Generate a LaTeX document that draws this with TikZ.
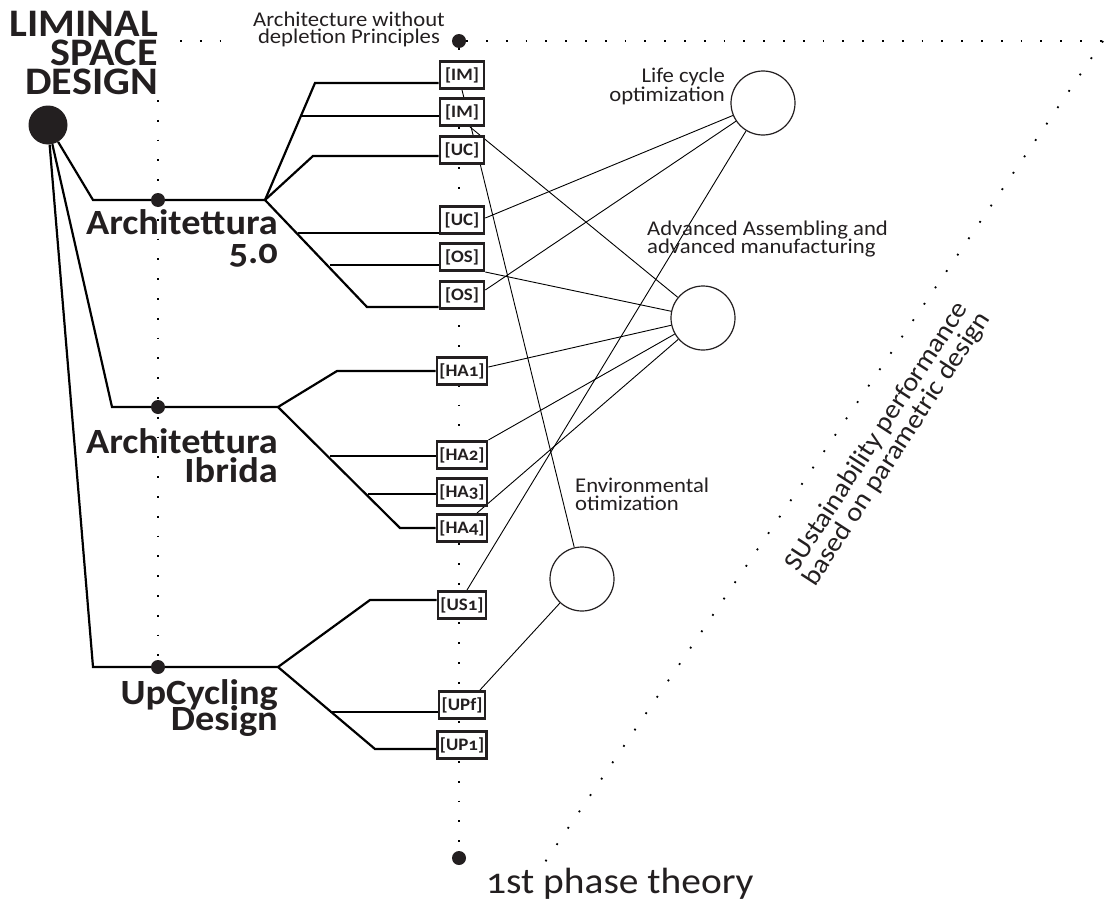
\documentclass[tikz,border=0pt]{standalone}
\usepackage{fontspec}
\setmainfont{Carlito}[Numbers=OldStyle,FakeStretch=1.08]
\usetikzlibrary{backgrounds}
\definecolor{ink}{HTML}{231F20}
\begin{document}
\begin{tikzpicture}[x=1pt,y=-1pt,color=ink,
  treeline/.style={line width=2.2pt,line join=miter},
  link/.style={line width=0.9pt},
  dotline/.style={line width=1.8pt,dash pattern=on 1.8pt off 18pt},
  boxnode/.style={draw,line width=2.6pt,fill=white,minimum width=44pt,minimum height=27.4pt,inner xsep=2.5pt,inner ysep=0pt,font=\fontsize{17.5}{17.5}\selectfont\bfseries},
  bigdot/.style={circle,fill=ink,inner sep=0pt,minimum size=14pt},
  ring/.style={circle,draw,line width=1.2pt,fill=white,inner sep=0pt,minimum size=64pt},
  lbl/.style={inner sep=0pt,font=\fontsize{21}{21}\selectfont},
  brl/.style={inner sep=0pt,anchor=base east,font=\fontsize{35.5}{35.5}\selectfont\bfseries},
  ttl/.style={inner sep=0pt,anchor=base east,font=\fontsize{39}{39}\selectfont\bfseries},
]
\useasboundingbox (0,0) rectangle (1113,907);

% title and root
\node[ttl] (t1) at (158,37) {LIMINAL};
\node[ttl] (t2) at (158,66) {SPACE};
\node[ttl] (t3) at (158,94) {DESIGN};
\node[circle,fill=ink,inner sep=0pt,minimum size=39pt] (root) at (48,125) {};

% boxes
\node[boxnode] (IM1) at (462,75) {[IM]};
\node[boxnode] (IM2) at (462,112) {[IM]};
\node[boxnode] (UC1) at (462,150) {[UC]};
\node[boxnode] (UC2) at (462,220) {[UC]};
\node[boxnode] (OS1) at (462,257) {[OS]};
\node[boxnode] (OS2) at (462,295) {[OS]};
\node[boxnode] (HA1) at (462,371) {[HA1]};
\node[boxnode] (HA2) at (462,455) {[HA2]};
\node[boxnode] (HA3) at (462,492) {[HA3]};
\node[boxnode] (HA4) at (462,528) {[HA4]};
\node[boxnode] (US1) at (462,605) {[US1]};
\node[boxnode] (UPf) at (462,705) {[UPf]};
\node[boxnode] (UP1) at (462,745) {[UP1]};

% dots
\node[bigdot] (D1) at (158,200) {};
\node[bigdot] (D2) at (158,407) {};
\node[bigdot] (D3) at (158,667) {};
\node[bigdot] (topdot) at (459,41) {};
\node[bigdot] (botdot) at (459,858) {};

% rings
\node[ring] (LC) at (763,103) {};
\node[ring] (ADV) at (703,318) {};
\node[ring] (ENV) at (582,579) {};

% labels
\node[lbl,anchor=base] (aw1) at (349,27) {Architecture without};
\node[lbl,anchor=base] (aw2) at (349,44) {depletion Principles};
\node[lbl,anchor=base east] (lc1) at (725,82) {Life cycle};
\node[lbl,anchor=base east] (lc2) at (725,101) {optimization};
\node[lbl,anchor=base west] (ad1) at (647,235) {Advanced Assembling and};
\node[lbl,anchor=base west] (ad2) at (647,253) {advanced manufacturing};
\node[lbl,anchor=base west] (en1) at (575,492) {Environmental};
\node[lbl,anchor=base west] (en2) at (575,510) {otimization};
\node[inner sep=0pt,anchor=base west,font=\fontsize{36.5}{36.5}\selectfont] (ph) at (486,893) {1st phase theory};
\node[rotate=57,align=center,inner sep=0pt,font=\fontsize{26.5}{22}\selectfont] (sus) at (887,443) {SUstainability performance\\based on parametric design};

\node[brl] (a5a) at (278,234) {Architettura};
\node[brl] (a5b) at (278,263) {5.0};
\node[brl] (aia) at (278,453) {Architettura};
\node[brl] (aib) at (278,482) {Ibrida};
\node[brl] (upa) at (278,704) {UpCycling};
\node[brl] (upb) at (278,730) {Design};

% coordinates
\coordinate (tl1) at (180,41);
\coordinate (tl2) at (236,41);
\coordinate (tr) at (1103,41);
\coordinate (bd) at (545,862);
\coordinate (lt) at (158,100);
\coordinate (k1) at (93,200);
\coordinate (k2) at (112,407);
\coordinate (k3) at (93,667);
\coordinate (b1) at (265,200);
\coordinate (b2) at (278,407);
\coordinate (b3) at (278,667);
\coordinate (u1) at (315,83);
\coordinate (u2) at (302,116);
\coordinate (u3) at (313,156);
\coordinate (l1) at (298,233);
\coordinate (l2) at (330,265);
\coordinate (l3) at (367,307);
\coordinate (v1) at (337,371);
\coordinate (w1) at (330,456);
\coordinate (w2) at (368,494);
\coordinate (w3) at (400,528);
\coordinate (x1) at (370,600);
\coordinate (y1) at (330,712);
\coordinate (y2) at (375,749);

\begin{pgfonlayer}{background}
  % dotted guides
  \draw[dotline] (tl1) -- (tl2);
  \draw[dotline] (topdot) -- (tr);
  \draw[dotline] (tr) -- (bd);
  \draw[dotline] (topdot) -- (botdot);
  \draw[dotline] (lt) -- (D3);
  % thin links
  \draw[link] (IM1.south) -- (ENV);
  \draw[link] ([xshift=8pt]IM2.south) -- (ADV);
  \draw[link] ([yshift=2pt]UC2.east) -- (LC);
  \draw[link] (OS1.south east) -- (ADV);
  \draw[link] ([yshift=5pt]OS2.east) -- (LC);
  \draw[link] ([yshift=4pt]HA1.east) -- (ADV);
  \draw[link] (HA2.north east) -- (ADV);
  \draw[link] ([xshift=15pt]HA4.north) -- (ADV);
  \draw[link] ([xshift=5pt]US1.north) -- (LC);
  \draw[link] ([xshift=18pt]UPf.north) -- (ENV);
  % tree
  \draw[treeline] (root) -- (k1) -- (b1);
  \draw[treeline] (root) -- (k2) -- (b2);
  \draw[treeline] (root) -- (k3) -- (b3);
  \draw[treeline] (b1) -- (u1) -- (IM1.west |- u1);
  \draw[treeline] (u2) -- (IM2.west |- u2);
  \draw[treeline] (b1) -- (u3) -- (UC1.west |- u3);
  \draw[treeline] (b1) -- (l3) -- (OS2.west |- l3);
  \draw[treeline] (l1) -- (UC2.west |- l1);
  \draw[treeline] (l2) -- (OS1.west |- l2);
  \draw[treeline] (b2) -- (v1) -- (HA1.west |- v1);
  \draw[treeline] (b2) -- (w3) -- (HA4.west |- w3);
  \draw[treeline] (w1) -- (HA2.west |- w1);
  \draw[treeline] (w2) -- (HA3.west |- w2);
  \draw[treeline] (b3) -- (x1) -- (US1.west |- x1);
  \draw[treeline] (b3) -- (y2) -- (UP1.west |- y2);
  \draw[treeline] (y1) -- (UPf.west |- y1);
\end{pgfonlayer}
\end{tikzpicture}
\end{document}
